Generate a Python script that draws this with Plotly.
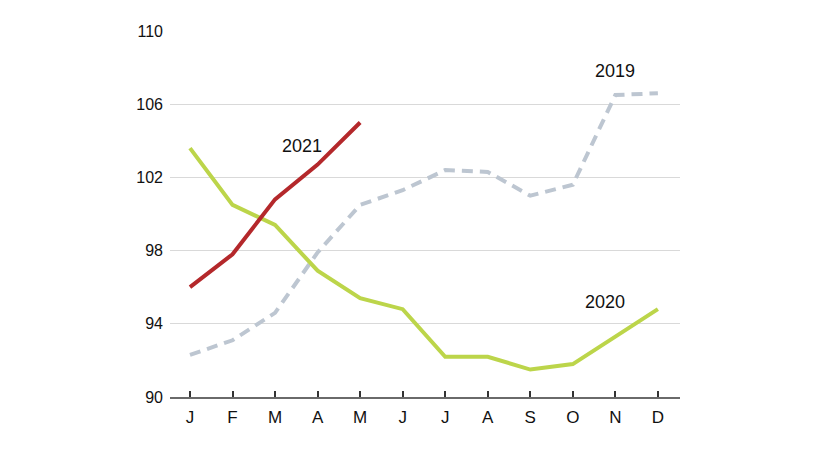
import plotly.graph_objects as go

months = ["J", "F", "M", "A", "M", "J", "J", "A", "S", "O", "N", "D"]
y2019 = [92.3, 93.1, 94.6, 97.9, 100.5, 101.3, 102.4, 102.3, 101.0, 101.6, 106.5, 106.6]
y2020 = [103.6, 100.5, 99.4, 96.9, 95.4, 94.8, 92.2, 92.2, 91.5, 91.8, 93.3, 94.8]
y2021 = [96.0, 97.8, 100.8, 102.7, 105.0]
y_ticks = [90, 94, 98, 102, 106, 110]

xs = list(range(len(months)))

fig = go.Figure()
fig.add_trace(go.Scatter(x=xs, y=y2019, mode="lines",
                         line=dict(color="#bdc6d1", width=4, dash="11px,7px"),
                         hoverinfo="skip"))
fig.add_trace(go.Scatter(x=xs, y=y2020, mode="lines",
                         line=dict(color="#bcd54a", width=4),
                         hoverinfo="skip"))
fig.add_trace(go.Scatter(x=xs[:len(y2021)], y=y2021, mode="lines",
                         line=dict(color="#b4282b", width=4),
                         hoverinfo="skip"))

label_font = dict(family="Liberation Sans, Arial, sans-serif", size=18, color="#111111")
fig.add_annotation(x=2.63, y=103.7, text="2021", showarrow=False, font=label_font)
fig.add_annotation(x=9.98, y=107.8, text="2019", showarrow=False, font=label_font)
fig.add_annotation(x=9.76, y=95.2, text="2020", showarrow=False, font=label_font)

fig.update_layout(
    width=812, height=453,
    margin=dict(l=162, r=140, t=23, b=64),
    paper_bgcolor="white", plot_bgcolor="white",
    showlegend=False,
    font=dict(family="Liberation Sans, Arial, sans-serif", color="#111111"),
    xaxis=dict(
        range=[-0.47, 11.52],
        tickmode="array", tickvals=xs, ticktext=months,
        showgrid=False, zeroline=False,
        showline=True, linecolor="#6a6a6a", linewidth=2,
        ticks="inside", ticklen=6, tickwidth=2, tickcolor="#333333",
        tickfont=dict(size=17, color="#111111"),
        ticklabelstandoff=4,
    ),
    yaxis=dict(
        range=[90, 110],
        tickmode="array", tickvals=y_ticks,
        showgrid=True, gridcolor="#d9d9d9", gridwidth=1,
        zeroline=False, showline=False, ticks="",
        tickfont=dict(size=16, color="#111111"),
        ticklabelstandoff=6,
    ),
)

fig.write_html("out.html")
